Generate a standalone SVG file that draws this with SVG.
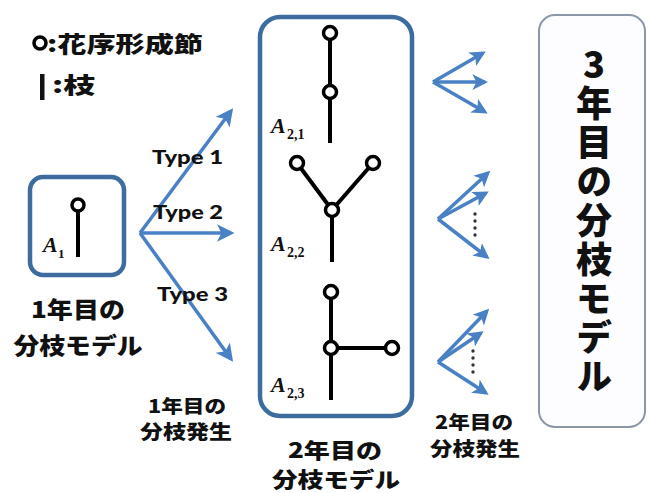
<svg xmlns="http://www.w3.org/2000/svg" width="649" height="493" viewBox="0 0 649 493">
<defs>
<marker id="ah" viewBox="0 0 10 10" refX="8" refY="5" markerWidth="5" markerHeight="5" orient="auto" markerUnits="strokeWidth">
<path d="M0,0 L10,5 L0,10 L2.5,5 Z" fill="#4a80c4"/>
</marker>
<marker id="ahs" viewBox="0 0 10 10" refX="8" refY="5" markerWidth="4.5" markerHeight="4.5" orient="auto" markerUnits="strokeWidth">
<path d="M0,0 L10,5 L0,10 L2.5,5 Z" fill="#4a80c4"/>
</marker>
</defs>
<style>
.box{fill:#ffffff;stroke:#3e6c9f;stroke-width:4.5}
.box3{fill:#fdfdff;stroke:#8c98a8;stroke-width:2}
.br{stroke:#000;stroke-width:4;fill:none;stroke-linecap:butt}
.nd{fill:#fff;stroke:#000;stroke-width:3.5}
.jp{font-family:"Noto Sans CJK JP","Noto Sans",sans-serif;font-weight:900;fill:#111}
.lat{font-family:Lato,"Liberation Sans",sans-serif;font-weight:900;fill:#111;font-size:18px}
.av{font-family:"Liberation Serif",serif;font-weight:bold;fill:#111}
.arr{stroke:#4a80c4;stroke-width:3.5;fill:none;marker-end:url(#ah)}
.sarr{stroke:#4a80c4;stroke-width:3.5;fill:none;marker-end:url(#ahs)}
.dot{fill:#333}
</style>
<rect width="649" height="493" fill="#ffffff"/>

<g id="legend">
<circle cx="40" cy="43" r="6" class="nd"/>
<text x="47" y="52" class="jp" font-size="22" textLength="156" lengthAdjust="spacingAndGlyphs">:花序形成節</text>
<rect x="40" y="74" width="4.5" height="26" fill="#111"/>
<text x="52" y="93" class="jp" font-size="22" textLength="43" lengthAdjust="spacingAndGlyphs">:枝</text>
</g>

<g id="year1">
<rect x="30" y="177" width="94" height="98" rx="13" class="box"/>
<line x1="78" y1="212" x2="78" y2="257" class="br"/>
<circle cx="78" cy="205" r="6" class="nd"/>
<text x="43" y="252" class="av" font-size="22" font-style="italic">A</text>
<text x="58" y="258" class="av" font-size="13">1</text>
<text x="78" y="318" class="jp" font-size="23" text-anchor="middle" textLength="94" lengthAdjust="spacingAndGlyphs">1年目の</text>
<text x="78" y="354" class="jp" font-size="23" text-anchor="middle" textLength="129" lengthAdjust="spacingAndGlyphs">分枝モデル</text>
</g>

<g id="connectors">
<line x1="140" y1="233" x2="231" y2="111" class="arr"/>
<line x1="140" y1="233" x2="231" y2="233" class="arr"/>
<line x1="140" y1="233" x2="231" y2="359" class="arr"/>
<line x1="433" y1="82" x2="483" y2="53" class="sarr"/>
<line x1="433" y1="82" x2="485" y2="82" class="sarr"/>
<line x1="433" y1="82" x2="485" y2="112" class="sarr"/>
<line x1="438" y1="219" x2="488" y2="173" class="sarr"/>
<line x1="438" y1="219" x2="486" y2="193" class="sarr"/>
<line x1="438" y1="219" x2="487" y2="257" class="sarr"/>
<line x1="438" y1="362" x2="487" y2="311" class="sarr"/>
<line x1="438" y1="362" x2="481" y2="333" class="sarr"/>
<line x1="438" y1="362" x2="486" y2="393" class="sarr"/>
</g>

<g id="dots">
<circle cx="475" cy="214" r="1.7" class="dot"/>
<circle cx="475" cy="221" r="1.7" class="dot"/>
<circle cx="475" cy="228" r="1.7" class="dot"/>
<circle cx="475" cy="235" r="1.7" class="dot"/>
<circle cx="473" cy="351" r="1.7" class="dot"/>
<circle cx="473" cy="358" r="1.7" class="dot"/>
<circle cx="473" cy="365" r="1.7" class="dot"/>
<circle cx="473" cy="372" r="1.7" class="dot"/>
</g>

<g id="type-labels">
<text x="152" y="164" class="lat" textLength="71" lengthAdjust="spacingAndGlyphs">Type 1</text>
<text x="153" y="219" class="lat" textLength="70" lengthAdjust="spacingAndGlyphs">Type 2</text>
<text x="157" y="301" class="lat" textLength="71" lengthAdjust="spacingAndGlyphs">Type 3</text>
<text x="187" y="413" class="jp" font-size="18" text-anchor="middle" textLength="78" lengthAdjust="spacingAndGlyphs">1年目の</text>
<text x="186" y="439" class="jp" font-size="19" text-anchor="middle" textLength="92" lengthAdjust="spacingAndGlyphs">分枝発生</text>
</g>

<g id="year2">
<rect x="260" y="17" width="152" height="399" rx="20" class="box"/>
<line x1="330" y1="33" x2="330" y2="143" class="br"/>
<circle cx="330" cy="33" r="6.5" class="nd"/>
<circle cx="330" cy="92" r="6.5" class="nd"/>
<text x="271" y="133" class="av" font-size="22" font-style="italic">A</text>
<text x="287" y="139" class="av" font-size="14">2,1</text>

<line x1="297" y1="163" x2="332" y2="210" class="br"/>
<line x1="373" y1="163" x2="332" y2="210" class="br"/>
<line x1="332" y1="210" x2="332" y2="262" class="br"/>
<circle cx="297" cy="163" r="6.5" class="nd"/>
<circle cx="373" cy="163" r="6.5" class="nd"/>
<circle cx="332" cy="210" r="6.5" class="nd"/>
<text x="271" y="251" class="av" font-size="22" font-style="italic">A</text>
<text x="287" y="257" class="av" font-size="14">2,2</text>

<line x1="331" y1="292" x2="331" y2="400" class="br"/>
<line x1="331" y1="348" x2="392" y2="348" class="br"/>
<circle cx="331" cy="292" r="6.5" class="nd"/>
<circle cx="331" cy="348" r="6.5" class="nd"/>
<circle cx="392" cy="348" r="6.5" class="nd"/>
<text x="271" y="392" class="av" font-size="22" font-style="italic">A</text>
<text x="287" y="398" class="av" font-size="14">2,3</text>

<text x="335" y="458" class="jp" font-size="21" text-anchor="middle" textLength="94" lengthAdjust="spacingAndGlyphs">2年目の</text>
<text x="336" y="487" class="jp" font-size="21" text-anchor="middle" textLength="128" lengthAdjust="spacingAndGlyphs">分枝モデル</text>
</g>

<g id="year2-growth">
<text x="474" y="429" class="jp" font-size="18" text-anchor="middle" textLength="78" lengthAdjust="spacingAndGlyphs">2年目の</text>
<text x="475" y="456" class="jp" font-size="19" text-anchor="middle" textLength="90" lengthAdjust="spacingAndGlyphs">分枝発生</text>
</g>

<g id="year3">
<rect x="539" y="15" width="106" height="412" rx="16" class="box3"/>
<text x="594" y="46" class="jp" font-size="36" letter-spacing="3" style="writing-mode:vertical-rl;text-orientation:upright">3年目の分枝モデル</text>
</g>
</svg>
